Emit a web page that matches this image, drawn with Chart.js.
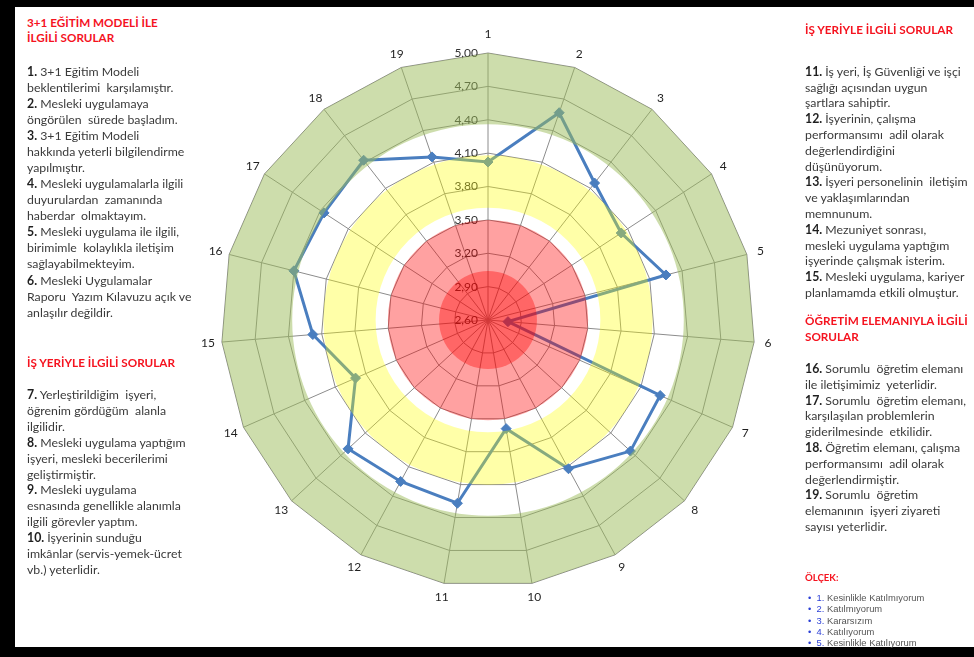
<!DOCTYPE html>
<html lang="tr">
<head>
<meta charset="utf-8">
<title>3+1 Eğitim Modeli - Anket Sonuçları</title>
<script src="https://cdn.jsdelivr.net/npm/chart.js@4.4.1/dist/chart.umd.min.js"></script>
<style>
  html, body { margin: 0; padding: 0; background: #fff; }
  body { width: 974px; height: 657px; position: relative; overflow: hidden; font-family: Lato, "Liberation Sans", sans-serif; }
  #frameTop { position: absolute; left: 0; top: 0; width: 974px; height: 7px; background: #000; }
  #frameLeft { position: absolute; left: 0; top: 0; width: 15px; height: 657px; background: #000; }
  #frameBottom { position: absolute; left: 0; top: 647px; width: 974px; height: 10px; background: #000; }
  #radar { position: absolute; left: 168px; top: 0; }
  .txt { position: absolute; white-space: pre; color: #3a3a3a; font-size: 12.3px; line-height: 16px; z-index: 2; }
  .txt b { color: #1f1f1f; }
  .head { position: absolute; white-space: pre; color: #f5131f; font-weight: bold; font-size: 11.7px; z-index: 2; }
  .scale { position: absolute; left: 808px; top: 592px; font-family: "Liberation Sans", Arial, sans-serif; font-size: 9.4px; line-height: 11.3px; color: #555; white-space: pre; z-index: 2; }
  .scale span { color: #2b3fd6; }
</style>
</head>
<body>
<div id="frameTop"></div>
<div id="frameLeft"></div>
<div id="frameBottom"></div>
<canvas id="radar" width="640" height="640"></canvas>

<div class="head" style="left:27px; top:15px; line-height:14.5px;">3+1 EĞİTİM MODELİ İLE
İLGİLİ SORULAR</div>
<div class="txt" style="left:27px; top:63.7px; line-height:16.07px;"><b>1.</b> 3+1 Eğitim Modeli
beklentilerimi  karşılamıştır.
<b>2.</b> Mesleki uygulamaya
öngörülen  sürede başladım.
<b>3.</b> 3+1 Eğitim Modeli
hakkında yeterli bilgilendirme
yapılmıştır.
<b>4.</b> Mesleki uygulamalarla ilgili
duyurulardan  zamanında
haberdar  olmaktayım.
<b>5.</b> Mesleki uygulama ile ilgili,
birimimle  kolaylıkla iletişim
sağlayabilmekteyim.
<b>6.</b> Mesleki Uygulamalar
Raporu  Yazım Kılavuzu açık ve
anlaşılır değildir.</div>

<div class="head" style="left:27px; top:353.7px; line-height:16px;">İŞ YERİYLE İLGİLİ SORULAR</div>
<div class="txt" style="left:27px; top:387px; line-height:15.9px;"><b>7.</b> Yerleştirildiğim  işyeri,
öğrenim gördüğüm  alanla
ilgilidir.
<b>8.</b> Mesleki uygulama yaptığım
işyeri, mesleki becerilerimi
geliştirmiştir.
<b>9.</b> Mesleki uygulama
esnasında genellikle alanımla
ilgili görevler yaptım.
<b>10.</b> İşyerinin sunduğu
imkânlar (servis-yemek-ücret
vb.) yeterlidir.</div>

<div class="head" style="left:805px; top:21.3px; line-height:16px;">İŞ YERİYLE İLGİLİ SORULAR</div>
<div class="txt" style="left:805px; top:63.8px; line-height:15.8px;"><b>11.</b> İş yeri, İş Güvenliği ve işçi
sağlığı açısından uygun
şartlara sahiptir.
<b>12.</b> İşyerinin, çalışma
performansımı  adil olarak
değerlendirdiğini
düşünüyorum.
<b>13.</b> İşyeri personelinin  iletişim
ve yaklaşımlarından
memnunum.
<b>14.</b> Mezuniyet sonrası,
mesleki uygulama yaptığım
işyerinde çalışmak isterim.
<b>15.</b> Mesleki uygulama, kariyer
planlamamda etkili olmuştur.</div>

<div class="head" style="left:805px; top:311.7px; line-height:16.7px;">ÖĞRETİM ELEMANIYLA İLGİLİ
SORULAR</div>
<div class="txt" style="left:805px; top:361px; line-height:15.8px;"><b>16.</b> Sorumlu  öğretim elemanı
ile iletişimimiz  yeterlidir.
<b>17.</b> Sorumlu  öğretim elemanı,
karşılaşılan problemlerin
giderilmesinde  etkilidir.
<b>18.</b> Öğretim elemanı, çalışma
performansımı  adil olarak
değerlendirmiştir.
<b>19.</b> Sorumlu  öğretim
elemanının  işyeri ziyareti
sayısı yeterlidir.</div>

<div class="head" style="left:805px; top:572px; font-size:9.6px; line-height:12px;">ÖLÇEK:</div>
<div class="scale"><span>•</span>  <span>1.</span> Kesinlikle Katılmıyorum
<span>•</span>  <span>2.</span> Katılmıyorum
<span>•</span>  <span>3.</span> Kararsızım
<span>•</span>  <span>4.</span> Katılıyorum
<span>•</span>  <span>5.</span> Kesinlikle Katılıyorum</div>

<script>
// question numbers around the radar, and the mean score of each question
const questions = ['1', '2', '3', '4', '5', '6', '7', '8', '9', '10',
  '11', '12', '13', '14', '15', '16', '17', '18', '19'];
const scores = [4.02, 4.57, 4.16, 4.03, 4.25, 2.78, 4.29, 4.34, 4.12, 3.59,
  4.27, 4.25, 4.31, 3.90, 4.18, 4.40, 4.36, 4.42, 4.15];

// radial axis: 2,60 .. 5,00 step 0,30
const scaleMin = 2.6;
const scaleMax = 5.0;
const scaleStep = 0.3;

// coloured zones laid over the chart (inner value, outer value)
const greenZone = [4.36, 5.00];
const yellowZone = [3.61, 4.08];
const redZone = [2.60, 3.50];
const darkRedZone = [2.60, 3.04];

const fmtTick = (v) => v.toFixed(2).replace('.', ',');

// tick labels sit left of the first spoke, under the series line
const tickLabels = {
  id: 'tickLabels',
  beforeDatasetsDraw(chart) {
    const r = chart.scales.r;
    const ctx = chart.ctx;
    ctx.save();
    ctx.font = '12px Lato, sans-serif';
    ctx.fillStyle = '#333';
    ctx.textAlign = 'right';
    ctx.textBaseline = 'middle';
    r.ticks.forEach(t => {
      const d = r.getDistanceFromCenterForValue(t.value);
      ctx.fillText(fmtTick(t.value), r.xCenter - 10, r.yCenter - d);
    });
    ctx.restore();
  }
};

// semi-transparent zones are painted on top of the line, like the original sheet
const zones = {
  id: 'zones',
  afterDatasetsDraw(chart) {
    const r = chart.scales.r;
    const ctx = chart.ctx;
    const cx = r.xCenter, cy = r.yCenter;
    const dist = (v) => r.getDistanceFromCenterForValue(v);
    ctx.save();

    // green: outer polygon minus inner circle
    ctx.beginPath();
    const outer = dist(greenZone[1]);
    questions.forEach((q, i) => {
      const p = r.getPointPosition(i, outer);
      if (i === 0) ctx.moveTo(p.x, p.y); else ctx.lineTo(p.x, p.y);
    });
    ctx.closePath();
    ctx.moveTo(cx + dist(greenZone[0]), cy);
    ctx.arc(cx, cy, dist(greenZone[0]), 0, Math.PI * 2, true);
    ctx.fillStyle = 'rgba(155,187,89,0.5)';
    ctx.fill('evenodd');

    // yellow ring
    ctx.beginPath();
    ctx.arc(cx, cy, dist(yellowZone[1]), 0, Math.PI * 2);
    ctx.moveTo(cx + dist(yellowZone[0]), cy);
    ctx.arc(cx, cy, dist(yellowZone[0]), 0, Math.PI * 2, true);
    ctx.fillStyle = 'rgba(255,255,0,0.34)';
    ctx.fill('evenodd');

    // red discs
    ctx.fillStyle = 'rgba(255,0,0,0.37)';
    ctx.beginPath();
    ctx.arc(cx, cy, dist(redZone[1]), 0, Math.PI * 2);
    ctx.fill();
    ctx.beginPath();
    ctx.arc(cx, cy, dist(darkRedZone[1]), 0, Math.PI * 2);
    ctx.fill();

    ctx.restore();
  }
};

const questionLabels = {
  id: 'questionLabels',
  afterDraw(chart) {
    const r = chart.scales.r;
    const ctx = chart.ctx;
    ctx.save();
    ctx.font = '12px Lato, sans-serif';
    ctx.fillStyle = '#1f1f1f';
    ctx.textAlign = 'center';
    ctx.textBaseline = 'middle';
    questions.forEach((q, i) => {
      const p = r.getPointPosition(i, r.drawingArea + (i === 0 ? 19 : 14));
      ctx.fillText(q, p.x, p.y);
    });
    ctx.restore();
  }
};

new Chart(document.getElementById('radar').getContext('2d'), {
  type: 'radar',
  data: {
    labels: questions,
    datasets: [{
      label: 'Ortalama',
      data: scores,
      borderColor: '#4a7ebf',
      backgroundColor: '#4a7ebf',
      borderWidth: 3,
      fill: false,
      pointStyle: 'rectRot',
      pointRadius: 5,
      pointBackgroundColor: '#4a7ebf',
      pointBorderColor: '#4a7ebf',
      pointBorderWidth: 1,
      tension: 0
    }]
  },
  options: {
    responsive: false,
    animation: false,
    devicePixelRatio: 1,
    layout: { padding: 53 },
    plugins: { legend: { display: false }, tooltip: { enabled: false } },
    scales: {
      r: {
        min: scaleMin,
        max: scaleMax,
        ticks: { stepSize: scaleStep, display: false },
        grid: { color: '#8c8c8c', lineWidth: 1 },
        angleLines: { color: '#8c8c8c', lineWidth: 1 },
        pointLabels: { display: false }
      }
    }
  },
  plugins: [tickLabels, zones, questionLabels]
});
</script>
</body>
</html>
